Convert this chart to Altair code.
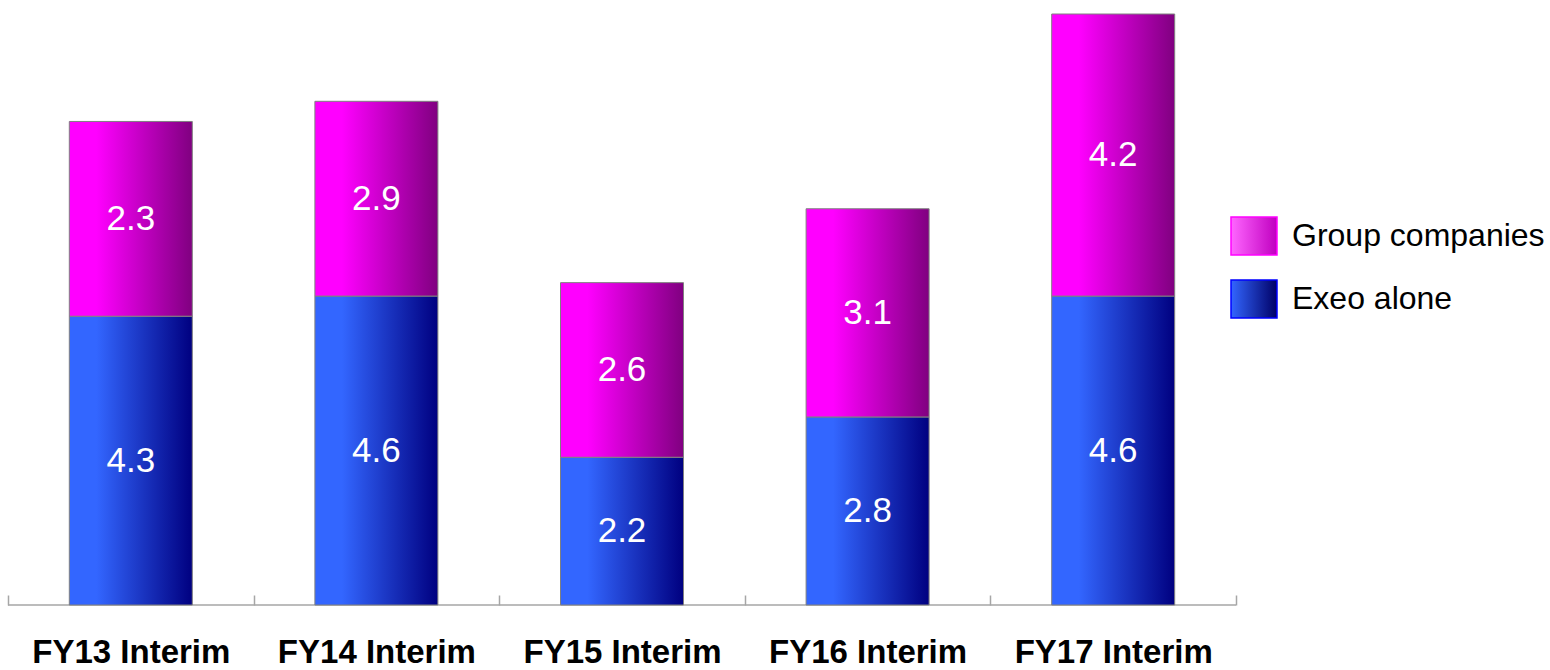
import altair as alt
import pandas as pd

years = ["FY13 Interim", "FY14 Interim", "FY15 Interim", "FY16 Interim", "FY17 Interim"]
exeo = [4.3, 4.6, 2.2, 2.8, 4.6]
group = [2.9, 2.9, 2.6, 3.1, 4.2]          # heights as drawn
exeo_labels = ["4.3", "4.6", "2.2", "2.8", "4.6"]
group_labels = ["2.3", "2.9", "2.6", "3.1", "4.2"]  # text as printed
series_names = ["Group companies", "Exeo alone"]

rows = []
for i, yr in enumerate(years):
    rows.append(dict(year=yr, series="Exeo alone", value=exeo[i], label=exeo_labels[i], order=0))
    rows.append(dict(year=yr, series="Group companies", value=group[i], label=group_labels[i], order=1))
df = pd.DataFrame(rows)

blue_grad = alt.LinearGradient(
    gradient="linear", x1=0, y1=0, x2=1, y2=0,
    stops=[alt.GradientStop(color="#3366FF", offset=0),
           alt.GradientStop(color="#3366FF", offset=0.22),
           alt.GradientStop(color="#000080", offset=1)])
mag_grad = alt.LinearGradient(
    gradient="linear", x1=0, y1=0, x2=1, y2=0,
    stops=[alt.GradientStop(color="#FF00FF", offset=0),
           alt.GradientStop(color="#FF00FF", offset=0.22),
           alt.GradientStop(color="#800080", offset=1)])

base = alt.Chart(df).transform_stack(
    stack="value", groupby=["year"], as_=["y0", "y1"],
    sort=[alt.SortField("order", order="ascending")]
).transform_calculate(mid="(datum.y0 + datum.y1) / 2")

x = alt.X("year:N", sort=years,
          scale=alt.Scale(paddingInner=0, paddingOuter=0),
          axis=alt.Axis(title=None, tickBand="extent", offset=-10, tickSize=10,
                        domain=False, grid=False, labelAngle=0, labelLimit=0,
                        labelFont="Liberation Sans", labelFontSize=33,
                        labelFontWeight="bold", labelColor="black", labelPadding=31,
                        tickColor="#a6a6a6", tickWidth=1.5))
yscale = alt.Scale(domain=[0, 8.8], nice=False, zero=True)

exeo_bars = base.transform_filter(alt.datum.series == "Exeo alone").mark_bar(
    size=123, color=blue_grad, stroke="#808080", strokeWidth=1
).encode(x=x, y=alt.Y("y1:Q", scale=yscale, axis=None), y2="y0:Q")

group_bars = base.transform_filter(alt.datum.series == "Group companies").mark_bar(
    size=123, color=mag_grad, stroke="#808080", strokeWidth=1
).encode(x=x, y=alt.Y("y1:Q", scale=yscale, axis=None), y2="y0:Q")

labels = base.mark_text(color="white", font="Liberation Sans", fontSize=35,
                        baseline="middle", align="center").encode(
    x=x, y=alt.Y("mid:Q", scale=yscale, axis=None), text="label:N")

baseline = alt.Chart(pd.DataFrame({"v": [0]})).mark_rule(color="#a6a6a6", strokeWidth=1.5).encode(
    y=alt.Y("v:Q", scale=yscale, axis=None), x=alt.value(0), x2=alt.value(1228))

leg = alt.Legend(title=None, orient="none", legendX=1222, legendY=198,
                 symbolType="M-1,-0.826H1V0.826H-1Z", symbolSize=2116,
                 labelFontSize=32, labelFont="Liberation Sans", labelColor="black",
                 labelOffset=14, rowPadding=17, symbolStrokeWidth=1.5, padding=0,
                 symbolOpacity=1, labelLimit=0)

fill_range = [
    {"expr": "{gradient: 'linear', x1: 0, y1: 0, x2: 1, y2: 0, stops: [{offset: 0, color: '#FF66FF'}, {offset: 1, color: '#C000C0'}]}"},
    {"expr": "{gradient: 'linear', x1: 0, y1: 0, x2: 1, y2: 0, stops: [{offset: 0, color: '#3366FF'}, {offset: 1, color: '#000066'}]}"},
]

legend_layer = base.mark_square(size=0, opacity=1).encode(
    x=x, y=alt.Y("y1:Q", scale=yscale, axis=None),
    fill=alt.Fill("series:N", scale=alt.Scale(domain=series_names, range=fill_range), legend=leg),
    stroke=alt.Stroke("series:N", scale=alt.Scale(domain=series_names, range=["#FF00FF", "#0000FF"]), legend=leg),
)

chart = alt.layer(baseline, exeo_bars, group_bars, labels, legend_layer).properties(
    width=1228, height=591,
    padding={"left": 8, "top": 14, "right": 314, "bottom": 65},
    autosize=alt.AutoSizeParams(type="none"),
    background="white",
).configure_view(stroke=None)

chart.save("out.html", embed_options={"renderer": "svg", "actions": False})
